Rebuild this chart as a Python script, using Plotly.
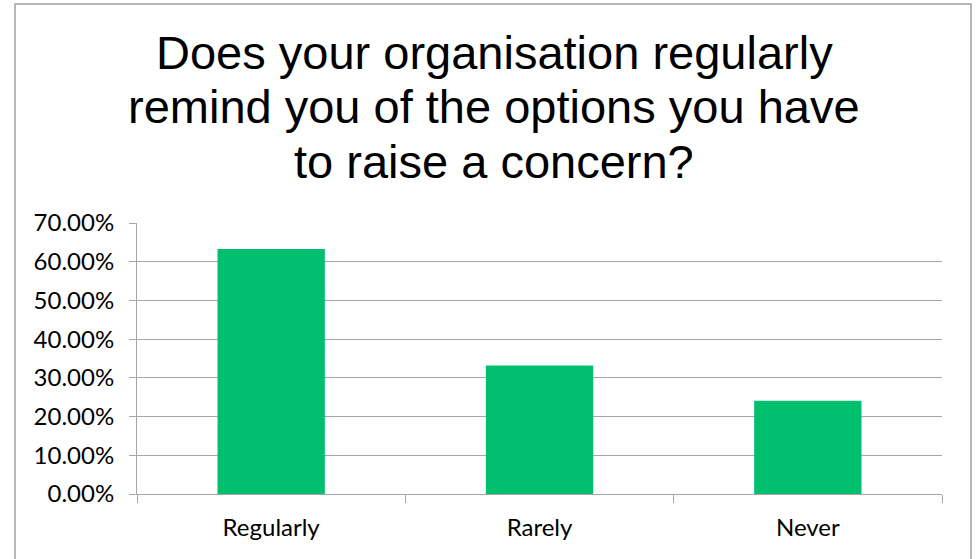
import plotly.graph_objects as go

# Survey responses
categories = ["Regularly", "Rarely", "Never"]
shares = [0.633, 0.332, 0.241]
y_ticks = [0.0, 0.1, 0.2, 0.3, 0.4, 0.5, 0.6, 0.7]
y_tick_labels = ["0.00%", "10.00%", "20.00%", "30.00%", "40.00%", "50.00%", "60.00%", "70.00%"]
title_lines = ["Does your organisation regularly", "remind you of the options you have", "to raise a concern?"]

W, H = 977, 559
L, R, T, B = 137, 35, 223, 65
pw, ph = W - L - R, H - T - B

def px_to_paper_x(x):
    return (x - L) / pw

def px_to_paper_y(y):
    return (H - B - y) / ph

grid = "#A6A6A6"
label_font = dict(family="Lato", size=24, color="black")

fig = go.Figure(
    go.Bar(
        x=categories,
        y=shares,
        marker=dict(color="#00BF6F", line=dict(width=0)),
        width=0.4,
    )
)

# Three-line heading, one annotation per line for even spacing
title_centres = [52, 106, 161]
annotations = [
    dict(
        text=line,
        xref="paper",
        yref="paper",
        x=px_to_paper_x(494),
        y=px_to_paper_y(cy),
        xanchor="center",
        yanchor="middle",
        showarrow=False,
        font=dict(family="Liberation Sans, Arial", size=47, color="black"),
    )
    for line, cy in zip(title_lines, title_centres)
]

fig.update_layout(
    width=W,
    height=H,
    margin=dict(l=L, r=R, t=T, b=B, pad=0),
    paper_bgcolor="white",
    plot_bgcolor="white",
    showlegend=False,
    font=label_font,
    annotations=annotations,
    shapes=[
        dict(
            type="path",
            xref="paper",
            yref="paper",
            path=(
                f"M {px_to_paper_x(15)},{px_to_paper_y(600)} "
                f"L {px_to_paper_x(15)},{px_to_paper_y(4)} "
                f"L {px_to_paper_x(971)},{px_to_paper_y(4)} "
                f"L {px_to_paper_x(971)},{px_to_paper_y(600)}"
            ),
            line=dict(color="#A0A0A0", width=1.5),
        )
    ],
)

fig.update_xaxes(
    showline=True,
    linecolor=grid,
    linewidth=1,
    ticks="outside",
    tickson="boundaries",
    ticklen=8,
    tickcolor=grid,
    tickfont=label_font,
    ticklabelstandoff=12,
    showgrid=False,
)

fig.update_yaxes(
    range=[0, 0.7],
    tickvals=y_ticks,
    ticktext=y_tick_labels,
    showline=True,
    linecolor=grid,
    linewidth=1,
    ticks="outside",
    ticklen=7,
    tickcolor=grid,
    showgrid=True,
    gridcolor=grid,
    gridwidth=1,
    zeroline=False,
    tickfont=label_font,
    ticklabelstandoff=10,
)

fig.write_html("out.html")
